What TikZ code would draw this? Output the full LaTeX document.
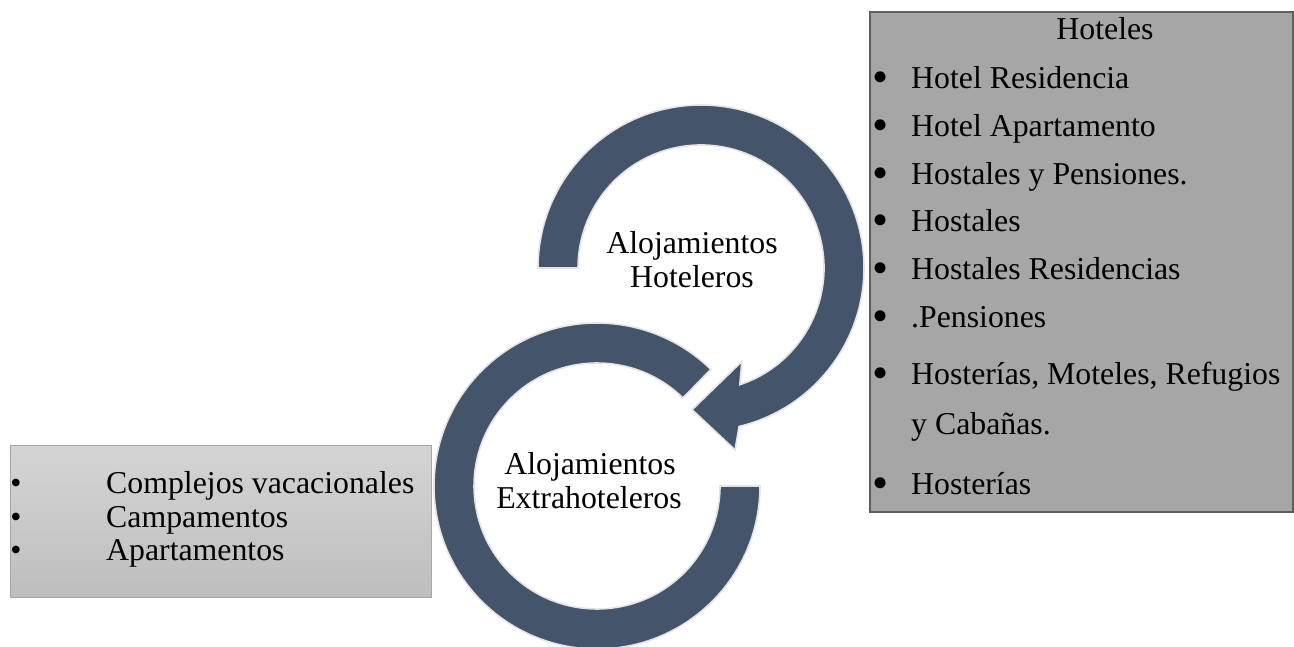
\documentclass[tikz,border=0pt]{standalone}
\usepackage{fontspec}
\setmainfont{Liberation Serif}
\usetikzlibrary{calc}
\definecolor{arrowblue}{HTML}{44546A}
\definecolor{arrowedge}{HTML}{E4E4E4}
\definecolor{darkbox}{HTML}{A6A6A6}
\definecolor{darkboxedge}{HTML}{5F5F5F}
\definecolor{lighttop}{HTML}{D4D4D4}
\definecolor{lightbot}{HTML}{BEBEBE}
\definecolor{lightedge}{HTML}{A8A8A8}
\tikzset{
  ringarrow/.style={fill=arrowblue, draw=arrowedge, line width=1.6pt, line join=miter},
  txt/.style={font=\fontsize{31.8}{34}\selectfont, inner sep=0pt},
  bigbullet/.style={font=\fontsize{46}{46}\selectfont, inner sep=0pt},
  smallbullet/.style={font=\fontsize{31.8}{34}\selectfont, inner sep=0pt}
}
\begin{document}
\begin{tikzpicture}[x=1pt,y=1pt]
\useasboundingbox (0,0) rectangle (1294,646);
\coordinate (c1) at (701,378);
\coordinate (c2) at (597,160);
% upper circular arrow
\path[ringarrow] ($(c1)+(180:163)$) arc[start angle=180, end angle=-76.5, radius=163]
  -- ($(c1)+(-79.4:185)$) -- ($(c1)+(-93.6:142)$) -- ($(c1)+(-66.4:102)$)
  -- ($(c1)+(-71.6:123)$) arc[start angle=-71.6, end angle=180, radius=123] -- cycle;
% lower circular arc
\path[ringarrow] ($(c2)+(0:163)$) arc[start angle=0, end angle=-314.3, radius=163]
  -- ($(c2)+(45.7:123)$) arc[start angle=45.7, end angle=360, radius=123] -- cycle;
% circle labels
\node[txt, anchor=base] (h1) at (692,392) {Alojamientos};
\node[txt, anchor=base] (h2) at (692,358) {Hoteleros};
\node[txt, anchor=base] (e1) at (590,171) {Alojamientos};
\node[txt, anchor=base] (e2) at (589,138) {Extrahoteleros};
% right box
\path[fill=darkbox, draw=darkboxedge, line width=1.8pt] (870,634) rectangle (1293,134);
\node[txt, anchor=base] (ht) at (1105,606) {Hoteles};
\foreach \y/\t [count=\i] in {557/Hotel Residencia, 509/Hotel Apartamento, 461/Hostales y Pensiones., 414/Hostales, 366/Hostales Residencias, 318/.Pensiones, 261/{Hosterías, Moteles, Refugios}, 151/Hosterías}{
  \node[bigbullet, anchor=base] (rb\i) at (881,\y-4) {•};
  \node[txt, anchor=base west] (ri\i) at (911,\y) {\t};
}
\node[txt, anchor=base west] (ri7b) at (911,211) {y Cabañas.};
% left box
\path[top color=lighttop, bottom color=lightbot, draw=lightedge, line width=1pt] (10,200) rectangle (431,49);
\foreach \y/\t [count=\i] in {153/Complejos vacacionales, 119/Campamentos, 85/Apartamentos}{
  \node[smallbullet, anchor=base] (lb\i) at (16,\y) {•};
  \node[txt, anchor=base west] (li\i) at (106,\y) {\t};
}
\end{tikzpicture}
\end{document}
